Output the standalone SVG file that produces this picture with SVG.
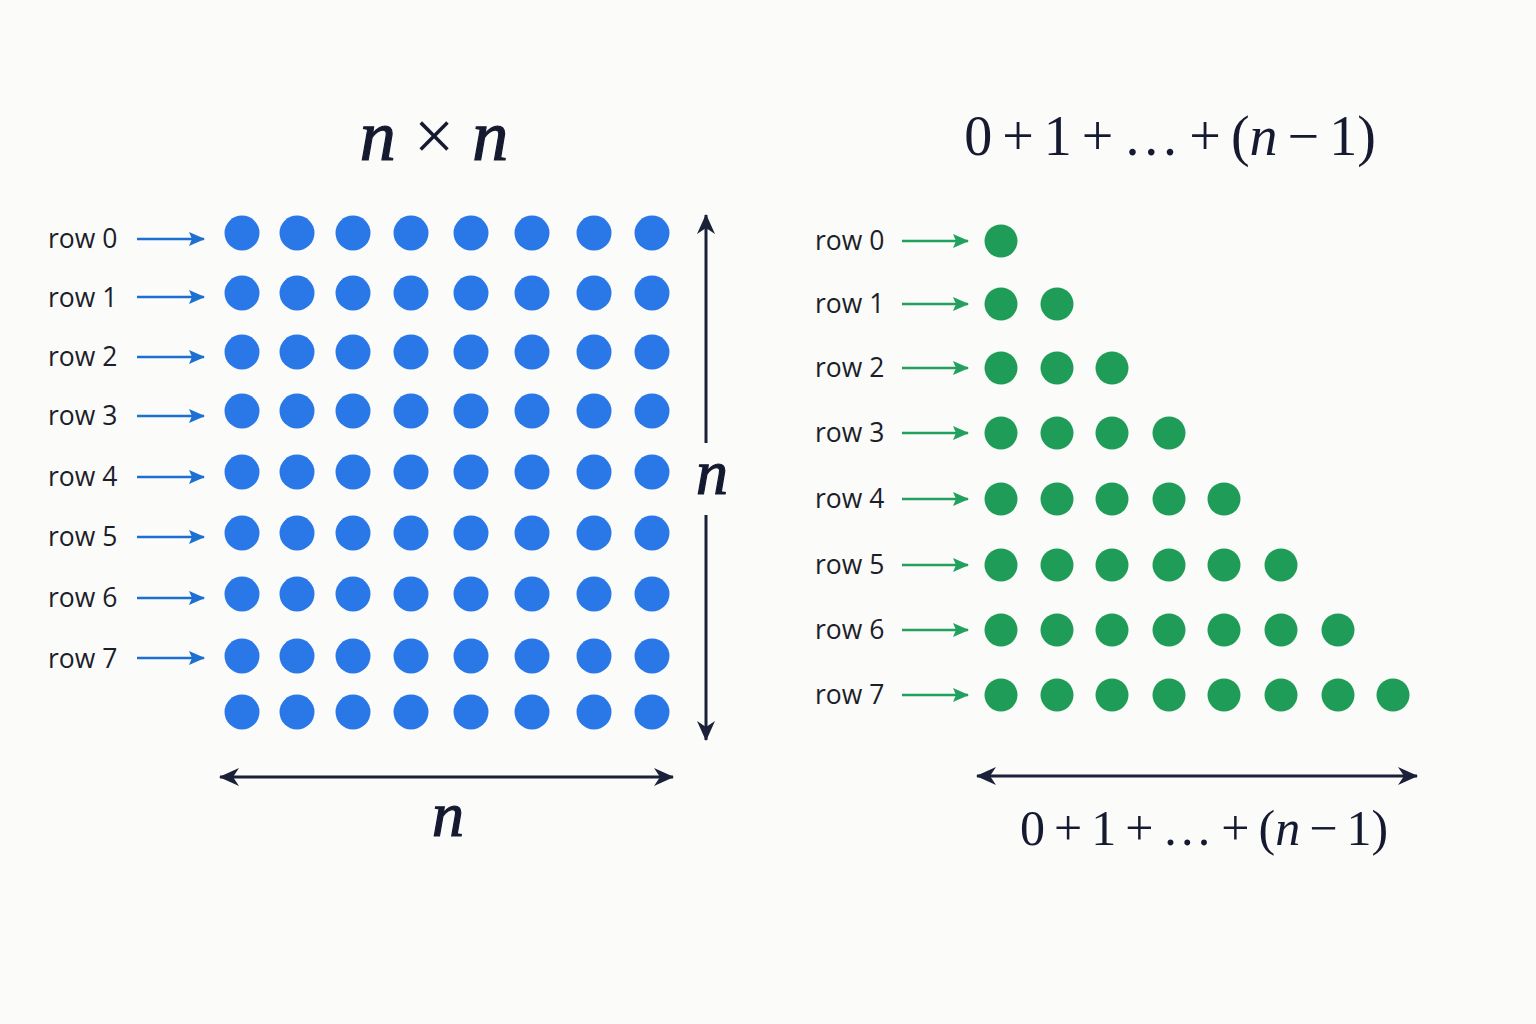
<svg xmlns="http://www.w3.org/2000/svg" width="1536" height="1024" viewBox="0 0 1536 1024">
<defs>
<style>
.lbl{font-family:"Open Sans","Liberation Sans",sans-serif;font-size:26.5px;fill:#1c1e2a}
.math{font-family:"Liberation Serif","DejaVu Serif",serif;fill:#161a30}
.it{font-style:italic}
.bold{stroke:#161a30;stroke-width:1.2px}
.b{fill:#2a78e8}
.g{fill:#1f9d58}
.ba{stroke:#1e6fd2;stroke-width:2.6;fill:none}
.ga{stroke:#22a05e;stroke-width:2.6;fill:none}
.da{stroke:#1b2138;stroke-width:3;fill:none}
</style>
<marker id="mb" markerUnits="userSpaceOnUse" viewBox="0 0 16 14" markerWidth="16" markerHeight="14" refX="15" refY="7" orient="auto"><path d="M0,0 L16,7 L0,14 L3,7 Z" fill="#1e6fd2"/></marker>
<marker id="mg" markerUnits="userSpaceOnUse" viewBox="0 0 16 14" markerWidth="16" markerHeight="14" refX="15" refY="7" orient="auto"><path d="M0,0 L16,7 L0,14 L3,7 Z" fill="#22a05e"/></marker>
<marker id="md" markerUnits="userSpaceOnUse" viewBox="0 0 20 18" markerWidth="20" markerHeight="18" refX="19" refY="9" orient="auto-start-reverse"><path d="M0,0 L20,9 L0,18 L6,9 Z" fill="#1b2138"/></marker>
</defs>
<rect width="1536" height="1024" fill="#fbfbf9"/>

<g id="title-left"><text class="math" x="434" y="160" font-size="72" text-anchor="middle"><tspan class="it bold">n</tspan> × <tspan class="it bold">n</tspan></text></g>
<g id="title-right"><text class="math" x="1170" y="155" font-size="56" word-spacing="-4" text-anchor="middle">0 + 1 + … + (<tspan class="it">n</tspan> − 1)</text></g>

<g id="square-labels">
<text class="lbl" x="48" y="248">row 0</text>
<text class="lbl" x="48" y="307">row 1</text>
<text class="lbl" x="48" y="366">row 2</text>
<text class="lbl" x="48" y="425">row 3</text>
<text class="lbl" x="48" y="486">row 4</text>
<text class="lbl" x="48" y="546">row 5</text>
<text class="lbl" x="48" y="607">row 6</text>
<text class="lbl" x="48" y="668">row 7</text>
</g>

<g id="square-dots" class="b">
<circle cx="242" cy="233" r="17.5"/><circle cx="297" cy="233" r="17.5"/><circle cx="353" cy="233" r="17.5"/><circle cx="411" cy="233" r="17.5"/><circle cx="471" cy="233" r="17.5"/><circle cx="532" cy="233" r="17.5"/><circle cx="594" cy="233" r="17.5"/><circle cx="652" cy="233" r="17.5"/>
<circle cx="242" cy="293" r="17.5"/><circle cx="297" cy="293" r="17.5"/><circle cx="353" cy="293" r="17.5"/><circle cx="411" cy="293" r="17.5"/><circle cx="471" cy="293" r="17.5"/><circle cx="532" cy="293" r="17.5"/><circle cx="594" cy="293" r="17.5"/><circle cx="652" cy="293" r="17.5"/>
<circle cx="242" cy="352" r="17.5"/><circle cx="297" cy="352" r="17.5"/><circle cx="353" cy="352" r="17.5"/><circle cx="411" cy="352" r="17.5"/><circle cx="471" cy="352" r="17.5"/><circle cx="532" cy="352" r="17.5"/><circle cx="594" cy="352" r="17.5"/><circle cx="652" cy="352" r="17.5"/>
<circle cx="242" cy="411" r="17.5"/><circle cx="297" cy="411" r="17.5"/><circle cx="353" cy="411" r="17.5"/><circle cx="411" cy="411" r="17.5"/><circle cx="471" cy="411" r="17.5"/><circle cx="532" cy="411" r="17.5"/><circle cx="594" cy="411" r="17.5"/><circle cx="652" cy="411" r="17.5"/>
<circle cx="242" cy="472" r="17.5"/><circle cx="297" cy="472" r="17.5"/><circle cx="353" cy="472" r="17.5"/><circle cx="411" cy="472" r="17.5"/><circle cx="471" cy="472" r="17.5"/><circle cx="532" cy="472" r="17.5"/><circle cx="594" cy="472" r="17.5"/><circle cx="652" cy="472" r="17.5"/>
<circle cx="242" cy="533" r="17.5"/><circle cx="297" cy="533" r="17.5"/><circle cx="353" cy="533" r="17.5"/><circle cx="411" cy="533" r="17.5"/><circle cx="471" cy="533" r="17.5"/><circle cx="532" cy="533" r="17.5"/><circle cx="594" cy="533" r="17.5"/><circle cx="652" cy="533" r="17.5"/>
<circle cx="242" cy="594" r="17.5"/><circle cx="297" cy="594" r="17.5"/><circle cx="353" cy="594" r="17.5"/><circle cx="411" cy="594" r="17.5"/><circle cx="471" cy="594" r="17.5"/><circle cx="532" cy="594" r="17.5"/><circle cx="594" cy="594" r="17.5"/><circle cx="652" cy="594" r="17.5"/>
<circle cx="242" cy="656" r="17.5"/><circle cx="297" cy="656" r="17.5"/><circle cx="353" cy="656" r="17.5"/><circle cx="411" cy="656" r="17.5"/><circle cx="471" cy="656" r="17.5"/><circle cx="532" cy="656" r="17.5"/><circle cx="594" cy="656" r="17.5"/><circle cx="652" cy="656" r="17.5"/>
<circle cx="242" cy="712" r="17.5"/><circle cx="297" cy="712" r="17.5"/><circle cx="353" cy="712" r="17.5"/><circle cx="411" cy="712" r="17.5"/><circle cx="471" cy="712" r="17.5"/><circle cx="532" cy="712" r="17.5"/><circle cx="594" cy="712" r="17.5"/><circle cx="652" cy="712" r="17.5"/>
</g>

<g id="triangle-labels">
<text class="lbl" x="815" y="250">row 0</text>
<text class="lbl" x="815" y="313">row 1</text>
<text class="lbl" x="815" y="377">row 2</text>
<text class="lbl" x="815" y="442">row 3</text>
<text class="lbl" x="815" y="508">row 4</text>
<text class="lbl" x="815" y="574">row 5</text>
<text class="lbl" x="815" y="639">row 6</text>
<text class="lbl" x="815" y="704">row 7</text>
</g>

<g id="triangle-dots" class="g">
<circle cx="1001" cy="241" r="16.5"/>
<circle cx="1001" cy="304" r="16.5"/><circle cx="1057" cy="304" r="16.5"/>
<circle cx="1001" cy="368" r="16.5"/><circle cx="1057" cy="368" r="16.5"/><circle cx="1112" cy="368" r="16.5"/>
<circle cx="1001" cy="433" r="16.5"/><circle cx="1057" cy="433" r="16.5"/><circle cx="1112" cy="433" r="16.5"/><circle cx="1169" cy="433" r="16.5"/>
<circle cx="1001" cy="499" r="16.5"/><circle cx="1057" cy="499" r="16.5"/><circle cx="1112" cy="499" r="16.5"/><circle cx="1169" cy="499" r="16.5"/><circle cx="1224" cy="499" r="16.5"/>
<circle cx="1001" cy="565" r="16.5"/><circle cx="1057" cy="565" r="16.5"/><circle cx="1112" cy="565" r="16.5"/><circle cx="1169" cy="565" r="16.5"/><circle cx="1224" cy="565" r="16.5"/><circle cx="1281" cy="565" r="16.5"/>
<circle cx="1001" cy="630" r="16.5"/><circle cx="1057" cy="630" r="16.5"/><circle cx="1112" cy="630" r="16.5"/><circle cx="1169" cy="630" r="16.5"/><circle cx="1224" cy="630" r="16.5"/><circle cx="1281" cy="630" r="16.5"/><circle cx="1338" cy="630" r="16.5"/>
<circle cx="1001" cy="695" r="16.5"/><circle cx="1057" cy="695" r="16.5"/><circle cx="1112" cy="695" r="16.5"/><circle cx="1169" cy="695" r="16.5"/><circle cx="1224" cy="695" r="16.5"/><circle cx="1281" cy="695" r="16.5"/><circle cx="1338" cy="695" r="16.5"/><circle cx="1393" cy="695" r="16.5"/>
</g>

<g id="connectors">
<line class="ba" x1="137" y1="239" x2="204" y2="239" marker-end="url(#mb)"/>
<line class="ba" x1="137" y1="297" x2="204" y2="297" marker-end="url(#mb)"/>
<line class="ba" x1="137" y1="357" x2="204" y2="357" marker-end="url(#mb)"/>
<line class="ba" x1="137" y1="416" x2="204" y2="416" marker-end="url(#mb)"/>
<line class="ba" x1="137" y1="477" x2="204" y2="477" marker-end="url(#mb)"/>
<line class="ba" x1="137" y1="537" x2="204" y2="537" marker-end="url(#mb)"/>
<line class="ba" x1="137" y1="598" x2="204" y2="598" marker-end="url(#mb)"/>
<line class="ba" x1="137" y1="658" x2="204" y2="658" marker-end="url(#mb)"/>
<line class="ga" x1="902" y1="241" x2="968" y2="241" marker-end="url(#mg)"/>
<line class="ga" x1="902" y1="304" x2="968" y2="304" marker-end="url(#mg)"/>
<line class="ga" x1="902" y1="368" x2="968" y2="368" marker-end="url(#mg)"/>
<line class="ga" x1="902" y1="433" x2="968" y2="433" marker-end="url(#mg)"/>
<line class="ga" x1="902" y1="499" x2="968" y2="499" marker-end="url(#mg)"/>
<line class="ga" x1="902" y1="565" x2="968" y2="565" marker-end="url(#mg)"/>
<line class="ga" x1="902" y1="630" x2="968" y2="630" marker-end="url(#mg)"/>
<line class="ga" x1="902" y1="695" x2="968" y2="695" marker-end="url(#mg)"/>
<line class="da" x1="706" y1="443" x2="706" y2="215" marker-end="url(#md)"/>
<line class="da" x1="706" y1="515" x2="706" y2="740" marker-end="url(#md)"/>
<line class="da" x1="220" y1="777" x2="673" y2="777" marker-start="url(#md)" marker-end="url(#md)"/>
<line class="da" x1="977" y1="776" x2="1417" y2="776" marker-start="url(#md)" marker-end="url(#md)"/>
</g>

<g id="dim-labels">
<text class="math it bold" x="712" y="494" font-size="64" text-anchor="middle">n</text>
<text class="math it bold" x="448" y="836" font-size="64" text-anchor="middle">n</text>
<text class="math" x="1204" y="845" font-size="50" word-spacing="-3.5" text-anchor="middle">0 + 1 + … + (<tspan class="it">n</tspan> − 1)</text>
</g>
</svg>
